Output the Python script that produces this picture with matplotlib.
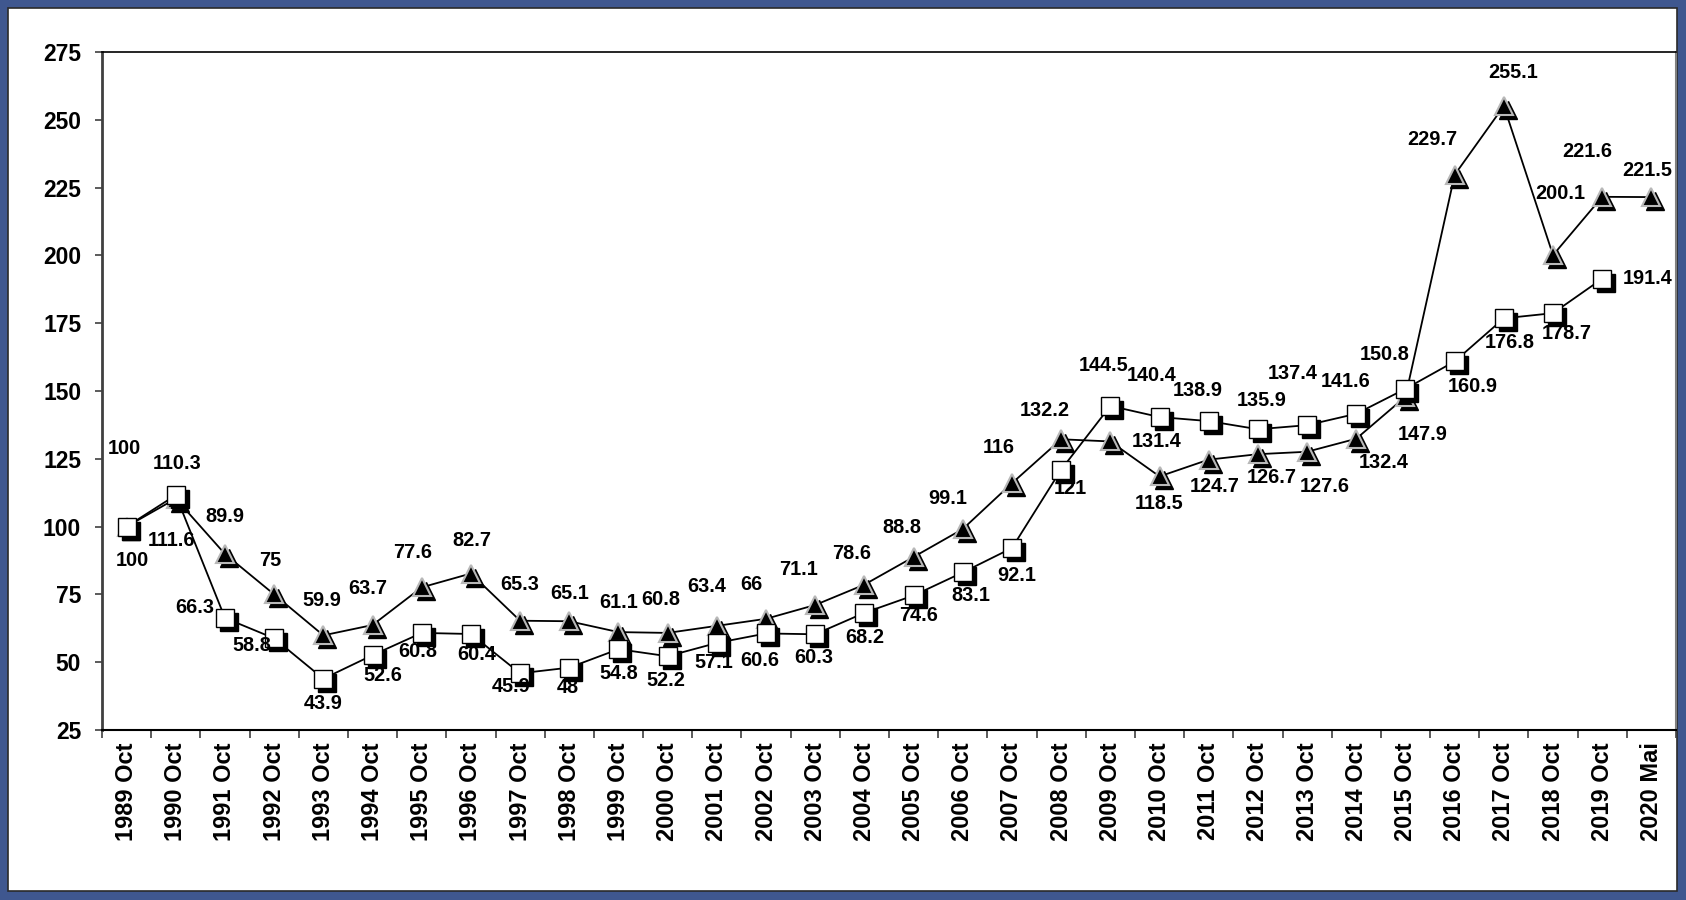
import numpy as np
import matplotlib.pyplot as plt
from matplotlib import transforms
from matplotlib.patches import Rectangle

plt.rcParams['font.family'] = ['Liberation Sans', 'DejaVu Sans']

# categories
periods = [str(y) + ' Oct' for y in range(1989, 2020)] + ['2020 Mai']

# series
tri_values = [100, 110.3, 89.9, 75, 59.9, 63.7, 77.6, 82.7, 65.3, 65.1, 61.1, 60.8,
              63.4, 66, 71.1, 78.6, 88.8, 99.1, 116, 132.2, 131.4, 118.5, 124.7,
              126.7, 127.6, 132.4, 147.9, 229.7, 255.1, 200.1, 221.6, 221.5]
sq_values = [100, 111.6, 66.3, 58.8, 43.9, 52.6, 60.8, 60.4, 45.9, 48, 54.8, 52.2,
             57.1, 60.6, 60.3, 68.2, 74.6, 83.1, 92.1, 121, 144.5, 140.4, 138.9,
             135.9, 137.4, 141.6, 150.8, 160.9, 176.8, 178.7, 191.4]

# label offsets in pixels (dx right, dy down)
tri_off = [(-2, -78), (1, -35), (0, -37), (-4, -34), (-2, -35), (-5, -37), (-9, -35),
           (1, -33), (0, -36), (0, -28), (0, -30), (-7, -33), (-10, -39), (-15, -34),
           (-17, -35), (-13, -31), (-12, -29), (-15, -31), (-13, -36), (-16, -29),
           (46, 0), (0, 27), (6, 27), (14, 23), (18, 35), (27, 24), (17, 38),
           (-22, -35), (9, -33), (7, -62), (-15, -45), (-4, -27)]
sq_off = [(6, 34), (-4, 45), (-30, -10), (-22, 7), (0, 25), (10, 20), (-4, 19), (6, 21),
          (-9, 13), (-1, 20), (0, 24), (-2, 24), (-3, 20), (-6, 27), (-1, 23), (0, 25),
          (5, 20), (8, 23), (5, 27), (9, 19), (-7, -40), (-8, -42), (-11, -31), (4, -29),
          (-14, -52), (-11, -32), (-21, -34), (18, 25), (6, 24), (14, 20), (45, 0)]

W, H = 1686, 900
fig = plt.figure(figsize=(W / 100, H / 100), dpi=100)
fig.patch.set_facecolor('#3f578f')
fig.patches.append(Rectangle((8 / W, 9 / H), (W - 17) / W, (H - 17) / H,
                             transform=fig.transFigure, facecolor='white',
                             edgecolor='#2a2a2a', linewidth=1.2, zorder=0))

ax = fig.add_axes([102 / W, (H - 730) / H, (1676 - 102) / W, (730 - 52) / H])
ax.set_zorder(2)
ax.set_facecolor('white')

x_tri = np.arange(len(tri_values))
x_sq = np.arange(len(sq_values))
shadow = transforms.offset_copy(ax.transData, fig=fig, x=4, y=-4, units='dots')

# triangle series
ax.plot(x_tri, tri_values, color='black', lw=1.3, zorder=2)
ax.plot(x_tri, tri_values, ls='none', marker='^', ms=13, color='black',
        mec='black', transform=shadow, zorder=3)
ax.plot(x_tri, tri_values, ls='none', marker='^', ms=13, color='black',
        mec='#b8b8b8', mew=1.5, zorder=4)

# square series
ax.plot(x_sq, sq_values, color='black', lw=1.3, zorder=5)
ax.plot(x_sq, sq_values, ls='none', marker='s', ms=12.5, color='black',
        mec='black', transform=shadow, zorder=6)
ax.plot(x_sq, sq_values, ls='none', marker='s', ms=12.5, color='white',
        mec='black', mew=1.0, zorder=7)

for i, v in enumerate(tri_values):
    dx, dy = tri_off[i]
    ax.annotate(f'{v:g}', (i, v), xytext=(dx, -dy), textcoords='offset pixels',
                ha='center', va='center', fontsize=14.3, fontweight='bold', zorder=8)
for i, v in enumerate(sq_values):
    dx, dy = sq_off[i]
    ax.annotate(f'{v:g}', (i, v), xytext=(dx, -dy), textcoords='offset pixels',
                ha='center', va='center', fontsize=14.3, fontweight='bold', zorder=8)

ax.set_xlim(-0.5, len(periods) - 0.5)
ax.set_ylim(25, 275)
ax.set_yticks(np.arange(25, 276, 25))
ax.set_yticklabels([str(t) for t in range(25, 276, 25)], fontsize=16.5, fontweight='bold')
ax.tick_params(axis='y', direction='out', length=5, width=1.2, color='#404040', pad=10)

ax.set_xticks(np.arange(len(periods)))
ax.set_xticklabels(periods, rotation=90, fontsize=17, fontweight='bold')
ax.tick_params(axis='x', which='major', length=0, pad=9)
ax.set_xticks(np.arange(len(periods) + 1) - 0.5, minor=True)
ax.tick_params(axis='x', which='minor', direction='out', length=6, width=1.2, color='#404040')

ax.spines['left'].set_color('#404040')
ax.spines['left'].set_linewidth(2)
ax.spines['top'].set_color('black')
ax.spines['top'].set_linewidth(1.2)
ax.spines['right'].set_color('#808080')
ax.spines['right'].set_linewidth(1.5)
ax.spines['bottom'].set_color('black')
ax.spines['bottom'].set_linewidth(1.5)

plt.savefig('out.png', dpi=100, facecolor=fig.get_facecolor())
plt.close()
